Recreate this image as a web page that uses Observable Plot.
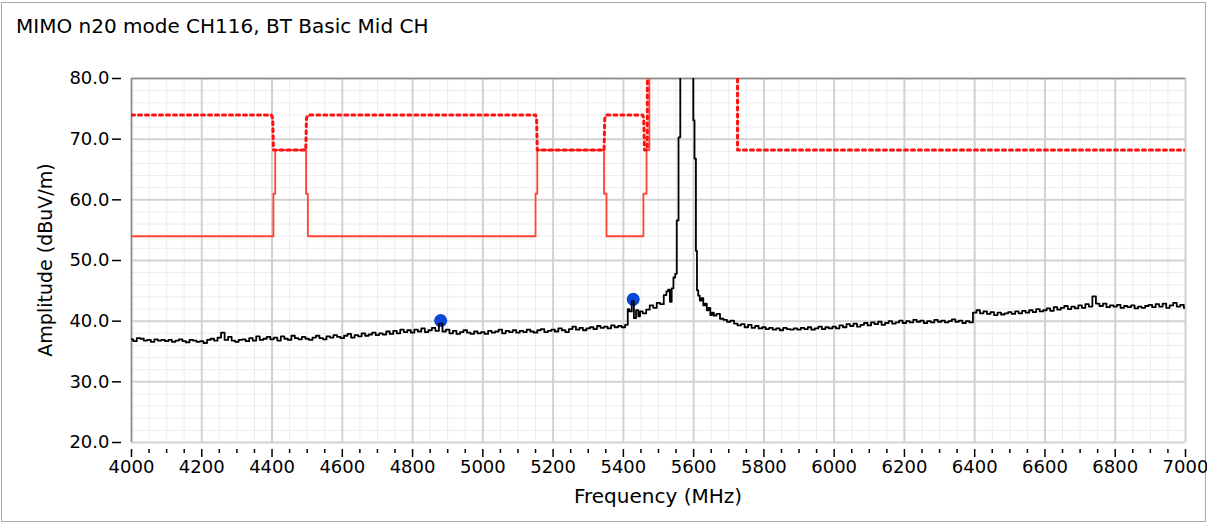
<!DOCTYPE html>
<html>
<head>
<meta charset="utf-8">
<script src="https://cdn.jsdelivr.net/npm/d3@7"></script>
<script src="https://cdn.jsdelivr.net/npm/@observablehq/plot@0.6"></script>
<style>
  html, body { margin: 0; padding: 0; background: #fff; }
  #wrap { position: relative; width: 1207px; height: 523px; overflow: hidden; font-family: "DejaVu Sans", sans-serif; color: #000; }
  #border { position: absolute; left: 1px; top: 2px; width: 1203px; height: 518px; border: 1px solid #a8a8a8; }
  #title { position: absolute; left: 16px; top: 14px; font-size: 20px; white-space: nowrap; }
  #xlabel { position: absolute; left: 0; width: 1316px; top: 484px; text-align: center; font-size: 20px; }
  #ylabel { position: absolute; left: 45px; top: 260px; font-size: 19px; white-space: nowrap; transform: translate(-50%, -50%) rotate(-90deg); }
  #chart { position: absolute; left: 0; top: 0; }
</style>
</head>
<body>
<div id="wrap">
  <div id="border"></div>
  <div id="chart"></div>
  <div id="title">MIMO n20 mode CH116, BT Basic Mid CH</div>
  <div id="xlabel">Frequency (MHz)</div>
  <div id="ylabel">Amplitude (dBuV/m)</div>
</div>
<script>
// ---- Data ----
const xTicks = [4000, 4200, 4400, 4600, 4800, 5000, 5200, 5400, 5600, 5800, 6000, 6200, 6400, 6600, 6800, 7000];
const yTicks = [20, 30, 40, 50, 60, 70, 80];

// Measured trace (MHz, dBuV/m)
const traceFreq = [
  4000,4010,4020,4030,4040,4050,4060,4070,4080,4090,
  4100,4110,4120,4130,4140,4150,4160,4170,4180,4190,
  4200,4210,4220,4230,4240,4250,4260,4270,4280,4290,
  4300,4310,4320,4330,4340,4350,4360,4370,4380,4390,
  4400,4410,4420,4430,4440,4450,4460,4470,4480,4490,
  4500,4510,4520,4530,4540,4550,4560,4570,4580,4590,
  4600,4610,4620,4630,4640,4650,4660,4670,4680,4690,
  4700,4710,4720,4730,4740,4750,4760,4770,4780,4790,
  4800,4810,4820,4830,4840,4850,4860,4870,4880,4890,
  4900,4910,4920,4930,4940,4950,4960,4970,4980,4990,
  5000,5010,5020,5030,5040,5050,5060,5070,5080,5090,
  5100,5110,5120,5130,5140,5150,5160,5170,5180,5190,
  5200,5210,5220,5230,5240,5250,5260,5270,5280,5290,
  5300,5310,5320,5330,5340,5350,5360,5370,5380,5390,
  5400,5410,5415,5420,5428,5432,5440,5445,5450,5460,
  5470,5480,5490,5500,5510,5520,5525,5530,5535,5540,
  5545,5550,5554,5560,5564,5598,5600,5605,5608,5611,
  5615,5620,5625,5630,5635,5640,5645,5650,5655,5660,
  5670,5680,5690,5700,5710,5720,5730,5740,5750,5760,
  5770,5780,5790,
  5800,5810,5820,5830,5840,5850,5860,5870,5880,5890,
  5900,5910,5920,5930,5940,5950,5960,5970,5980,5990,
  6000,6010,6020,6030,6040,6050,6060,6070,6080,6090,
  6100,6110,6120,6130,6140,6150,6160,6170,6180,6190,
  6200,6210,6220,6230,6240,6250,6260,6270,6280,6290,
  6300,6310,6320,6330,6340,6350,6360,6370,6380,6390,
  6400,6410,6420,6430,6440,6450,6460,6470,6480,6490,
  6500,6510,6520,6530,6540,6550,6560,6570,6580,6590,
  6600,6610,6620,6630,6640,6650,6660,6670,6680,6690,
  6700,6710,6720,6730,6740,6750,6760,6770,6780,6790,
  6800,6810,6820,6830,6840,6850,6860,6870,6880,6890,
  6900,6910,6920,6930,6940,6950,6960,6970,6980,6990,
  7000
];
const traceAmp = [
  37.0,36.7,37.2,37.1,36.8,36.9,36.6,37.0,36.8,36.9,
  36.7,36.9,36.6,36.8,37.0,36.7,36.5,36.9,36.8,36.6,
  36.7,36.4,36.9,37.1,36.8,37.3,38.1,36.9,37.4,36.8,
  36.6,36.9,37.0,36.7,37.2,36.8,37.5,36.9,37.1,37.4,
  37.0,37.3,36.8,37.5,37.1,36.9,37.6,37.2,37.0,37.4,
  37.1,36.9,37.3,37.6,37.2,37.0,37.5,37.3,37.7,37.4,
  37.2,37.6,37.9,37.3,37.7,37.5,38.0,37.6,37.8,38.1,
  37.7,38.0,37.8,38.3,37.9,38.4,38.0,38.6,38.2,38.5,
  38.1,38.6,38.3,38.8,38.2,38.5,38.9,38.4,39.6,38.3,
  38.6,38.0,38.4,37.9,38.2,38.5,38.1,37.9,38.3,38.0,
  38.2,37.9,38.4,38.1,38.3,38.6,38.0,38.4,38.2,38.5,
  38.1,38.4,38.2,38.6,38.3,38.1,38.5,38.7,38.2,38.4,
  38.6,38.3,38.8,38.5,38.2,38.7,39.1,38.6,38.9,38.5,
  38.8,39.0,38.7,39.2,38.9,39.1,38.8,39.3,39.0,39.2,
  39.0,39.4,42.0,41.6,43.3,40.5,41.8,40.8,41.6,41.3,
  41.9,42.6,42.2,43.0,42.8,44.3,44.9,45.2,43.2,45.4,
  47.2,47.8,56.6,70.3,95.0,95.0,73.1,66.8,51.6,45.1,
  44.2,43.4,43.8,42.6,42.9,41.8,42.2,41.0,41.4,40.9,
  41.2,40.4,40.2,39.9,40.1,39.6,39.3,39.5,39.0,39.4,
  38.9,39.2,38.8,
  39.0,38.7,38.9,38.6,38.8,38.5,38.9,38.7,38.6,38.8,
  38.6,38.9,38.7,39.0,38.6,38.8,39.1,38.7,39.0,38.8,
  39.1,38.8,39.3,39.0,39.5,39.2,39.6,39.1,39.4,39.7,
  39.3,39.8,39.5,39.9,39.4,39.7,40.0,39.6,39.8,40.1,
  39.7,40.0,39.8,40.2,39.9,40.1,39.7,40.0,39.8,40.2,
  39.9,40.1,39.8,40.0,40.3,39.9,40.1,39.7,40.0,39.8,
  41.4,41.8,41.3,41.6,41.2,41.5,41.0,41.4,41.1,41.3,
  41.5,41.2,41.6,41.3,41.7,41.4,41.8,41.5,42.0,41.6,
  41.8,42.1,41.7,42.3,41.9,42.2,42.5,42.0,42.4,42.1,
  42.6,42.2,42.8,42.4,44.1,42.9,42.5,42.9,42.3,42.6,
  42.4,42.7,42.2,42.5,42.3,42.6,42.1,42.4,42.2,42.5,
  42.7,42.3,42.8,42.4,42.9,42.2,42.6,43.0,42.4,42.7,
  42.2
];

// Peak limit (dotted) and average limit (solid)
const peakLimitFreq = [4000, 4398, 4402, 4404, 4496, 4498, 4502, 5150, 5153, 5155, 5345, 5347, 5351, 5455, 5458, 5460, 5468, 5470, 5725, 5725, 7000];
const peakLimitAmp  = [74, 74, 73.4, 68.2, 68.2, 73.4, 74, 74, 73.4, 68.2, 68.2, 73.4, 74, 74, 73.4, 68.2, 68.2, 120, 120, 68.2, 68.2];
const avgLimitFreq = [4000, 4404, 4404, 4409, 4409, 4497, 4497, 4502, 4502, 5150, 5150, 5155, 5155, 5345, 5345, 5352, 5352, 5457, 5457, 5466, 5466, 5474, 5474];
const avgLimitAmp  = [54, 54, 61, 61, 68.2, 68.2, 61, 61, 54, 54, 61, 61, 68.2, 68.2, 61, 61, 54, 54, 61, 61, 68.2, 68.2, 120];

// Markers
const markerFreq = [4880, 5428];
const markerAmp  = [40.1, 43.6];

// ---- Build tables ----
const trace = traceFreq.map((f, i) => ({ f, a: traceAmp[i] }));
const peakLimit = peakLimitFreq.map((f, i) => ({ f, a: peakLimitAmp[i] }));
const avgLimit = avgLimitFreq.map((f, i) => ({ f, a: avgLimitAmp[i] }));
const markers = markerFreq.map((f, i) => ({ f, a: markerAmp[i] }));

const minorX = d3.range(4000, 7001, 50).filter(v => v % 200 !== 0);
const minorY = d3.range(20, 81, 2).filter(v => v % 10 !== 0);
const minorTickX = d3.range(4000, 7001, 50).filter(v => v % 200 !== 0);

const chart = Plot.plot({
  width: 1207,
  height: 523,
  marginLeft: 131,
  marginRight: 22,
  marginTop: 78,
  marginBottom: 81,
  style: { fontFamily: "'DejaVu Sans', sans-serif", fontSize: "18px", background: "transparent", color: "#000" },
  x: { domain: [4000, 7000] },
  y: { domain: [20, 80] },
  marks: [
    Plot.ruleX(minorX, { stroke: "#ececec", strokeWidth: 1 }),
    Plot.ruleY(minorY, { stroke: "#ececec", strokeWidth: 1 }),
    Plot.ruleX(xTicks, { stroke: "#d2d2d2", strokeWidth: 2 }),
    Plot.ruleY(yTicks, { stroke: "#d2d2d2", strokeWidth: 2 }),
    Plot.ruleY([80], { stroke: "#8a8a8a", strokeWidth: 1.5 }),
    Plot.ruleX([4000], { stroke: "#8a8a8a", strokeWidth: 1.5 }),
    Plot.axisX({ ticks: xTicks, tickSize: 8, tickPadding: 3, dy: 7, tickFormat: "d", label: null, strokeWidth: 1.5, fontSize: 18 }),
    Plot.axisX({ ticks: minorTickX, tickSize: 4, dy: 7, text: null, label: null, strokeWidth: 1.5 }),
    Plot.axisY({ ticks: yTicks, tickSize: 9, tickPadding: 3, dx: -10, tickFormat: d => d.toFixed(1), label: null, strokeWidth: 1.5, fontSize: 18 }),
    Plot.line(avgLimit, { x: "f", y: "a", stroke: "#ff4433", strokeWidth: 1.8, clip: true }),
    Plot.line(peakLimit, { x: "f", y: "a", stroke: "#ff1010", strokeWidth: 3, strokeDasharray: "3,4", clip: true }),
    Plot.dot(markers, { x: "f", y: "a", r: 6.5, fill: "#0b46d8", stroke: "none" }),
    Plot.line(trace, { x: "f", y: "a", stroke: "#000", strokeWidth: 1.8, curve: "step", clip: true })
  ]
});
document.getElementById("chart").appendChild(chart);
</script>
</body>
</html>
